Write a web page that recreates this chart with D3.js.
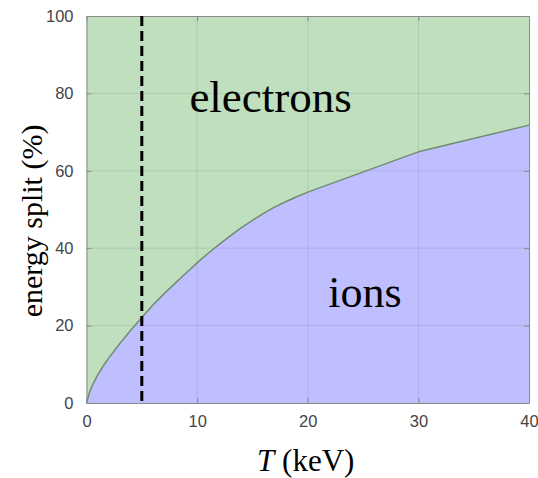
<!DOCTYPE html>
<html>
<head>
<meta charset="utf-8">
<script src="https://cdn.jsdelivr.net/npm/d3@7"></script>
<style>
  html, body { margin: 0; padding: 0; background: #fff; }
  svg { display: block; }
</style>
</head>
<body>
<div id="chart"></div>
<script>
// Temperature samples (keV) and the share of energy going to ions (%)
const temperature = [0, 0.25, 0.5, 1, 1.5, 2, 3, 4, 5, 6, 7, 8, 9, 10, 11, 12, 13, 14, 15, 16, 17, 18, 19, 20, 30, 40];
const ionShare    = [0, 2.5, 4.4, 7.2, 9.5, 11.6, 15.3, 18.8, 22.1, 25.3, 28.2, 30.9, 33.6, 36.2, 38.7, 41.0, 43.2, 45.3, 47.2, 49.0, 50.6, 52.0, 53.3, 54.5, 64.9, 71.8];
const xTicks = [0, 10, 20, 30, 40];
const yTicks = [0, 20, 40, 60, 80, 100];
const markerT = 5;
const regionLabels = ["electrons", "ions"];

const W = 538, H = 478;
const margin = { left: 86.5, top: 16, right: 9, bottom: 75 };
const iw = W - margin.left - margin.right;
const ih = H - margin.top - margin.bottom;

const svg = d3.select("#chart").append("svg")
  .attr("width", W).attr("height", H);

const g = svg.append("g").attr("transform", `translate(${margin.left},${margin.top})`);

const x = d3.scaleLinear().domain([0, 40]).range([0, iw]);
const y = d3.scaleLinear().domain([0, 100]).range([ih, 0]);

const pts = temperature.map((t, i) => ({ t, v: ionShare[i] }));

// electrons: region between the curve and 100 %
g.append("path")
  .datum(pts)
  .attr("fill", "rgb(191,223,191)")
  .attr("d", d3.area().x(d => x(d.t)).y0(y(100)).y1(d => y(d.v)));

// ions: region between 0 and the curve
g.append("path")
  .datum(pts)
  .attr("fill", "rgb(191,191,255)")
  .attr("d", d3.area().x(d => x(d.t)).y0(y(0)).y1(d => y(d.v)));

// grid lines
const grid = g.append("g").attr("stroke", "rgba(0,0,0,0.09)").attr("stroke-width", 1);
xTicks.slice(1, -1).forEach(t => grid.append("line")
  .attr("x1", x(t)).attr("x2", x(t)).attr("y1", 0).attr("y2", ih));
yTicks.slice(1, -1).forEach(t => grid.append("line")
  .attr("x1", 0).attr("x2", iw).attr("y1", y(t)).attr("y2", y(t)));

// boundary curve
g.append("path")
  .datum(pts)
  .attr("fill", "none")
  .attr("stroke", "#6f8c6f")
  .attr("stroke-width", 1.5)
  .attr("stroke-linejoin", "round")
  .attr("d", d3.line().x(d => x(d.t)).y(d => y(d.v)));

// axes (inward ticks on all four sides, box around the plot)
const tickStyle = sel => {
  sel.select(".domain").attr("stroke", "#8a8a8a").attr("stroke-width", 1);
  sel.selectAll(".tick line").attr("stroke", "#8a8a8a");
};
const tickFont = s => s.selectAll("text")
  .attr("font-family", "'Liberation Sans', Arial, sans-serif")
  .attr("font-size", 16.5).attr("fill", "#454545");

g.append("g").attr("transform", `translate(0,${ih})`)
  .call(d3.axisBottom(x).tickValues(xTicks).tickSize(-5).tickSizeOuter(0).tickPadding(12))
  .call(tickStyle).call(tickFont);
g.append("g")
  .call(d3.axisLeft(y).tickValues(yTicks).tickSize(-5).tickSizeOuter(0).tickPadding(13))
  .call(tickStyle).call(tickFont);
g.append("g")
  .call(d3.axisTop(x).tickValues(xTicks).tickSize(-5).tickSizeOuter(0).tickFormat(""))
  .call(tickStyle);
g.append("g").attr("transform", `translate(${iw},0)`)
  .call(d3.axisRight(y).tickValues(yTicks).tickSize(-5).tickSizeOuter(0).tickFormat(""))
  .call(tickStyle);

// dashed marker at T = 5 keV
g.append("line")
  .attr("x1", x(markerT)).attr("x2", x(markerT))
  .attr("y1", y(100)).attr("y2", y(0))
  .attr("stroke", "#000").attr("stroke-width", 3)
  .attr("stroke-dasharray", "10,5");

const serif = "'Liberation Serif', 'DejaVu Serif', serif";

// region labels
g.append("text")
  .attr("x", x(9.3)).attr("y", y(75.3))
  .attr("font-family", serif).attr("font-size", 45).attr("fill", "#000")
  .text(regionLabels[0]);
g.append("text")
  .attr("x", x(21.85)).attr("y", y(24.9))
  .attr("font-family", serif).attr("font-size", 44).attr("fill", "#000")
  .text(regionLabels[1]);

// axis titles
const xt = svg.append("text")
  .attr("x", margin.left + iw / 2 - 2).attr("y", 471)
  .attr("text-anchor", "middle")
  .attr("font-family", serif).attr("font-size", 31).attr("fill", "#000");
xt.append("tspan").attr("font-style", "italic").text("T");
xt.append("tspan").text(" (keV)");

svg.append("text")
  .attr("transform", `translate(42,221) rotate(-90)`)
  .attr("text-anchor", "middle")
  .attr("font-family", serif).attr("font-size", 30).attr("fill", "#000")
  .text("energy split (%)");
</script>
</body>
</html>
